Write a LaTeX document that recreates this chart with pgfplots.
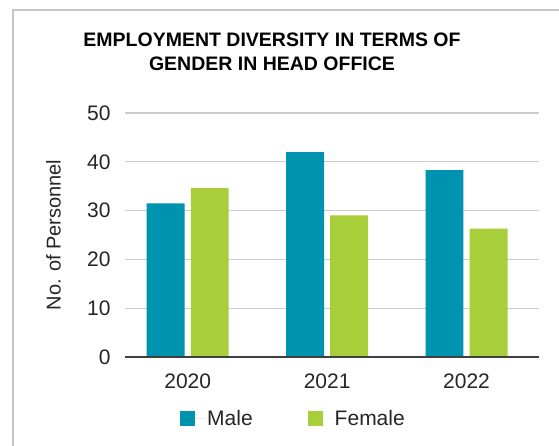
\documentclass[border=0pt]{standalone}
\usepackage{pgfplots}
\pgfplotsset{compat=1.18}
\usepackage{fontspec}
\setmainfont{Liberation Sans}
\definecolor{teal1}{HTML}{0093AF}
\definecolor{lime1}{HTML}{A8CE3A}
\definecolor{gridc}{HTML}{CCCCCC}
\definecolor{framec}{HTML}{C6C6CA}
\begin{document}
\begin{tikzpicture}[x=1pt,y=1pt]
\useasboundingbox (0,0) rectangle (559,-446);
\fill[white] (0,0) rectangle (559,-446);
\draw[framec, line width=2.5pt] (13,-446) -- (13,-10) -- (559,-10);
\node[font=\bfseries\fontsize{19.5}{23.5}\selectfont, align=center, text=black] at (272,-52) {EMPLOYMENT DIVERSITY IN TERMS OF\\GENDER IN HEAD OFFICE};
\begin{axis}[
  at={(125pt,-357pt)}, anchor=south west,
  scale only axis, width=414pt, height=244pt,
  xmin=-0.45, xmax=2.52, ymin=0, ymax=50,
  xtick={0,1,2}, xticklabels={2020,2021,2022},
  ytick={0,10,20,30,40,50},
  axis x line*=bottom, axis y line*=left,
  axis line style={draw=none},
  ymajorgrids, grid style={gridc, line width=1.2pt},
  major tick length=0pt,
  tick label style={font=\fontsize{21}{24}\selectfont, text=black!85},
  /pgf/number format/assume math mode=true,
  yticklabel style={anchor=east, xshift=-11pt},
  xticklabel style={yshift=-13pt},
  ylabel={No. of Personnel},
  ylabel style={font=\fontsize{20}{24}\selectfont, text=black!85, at={(axis description cs:-0.173,0.5)}, anchor=center, rotate=0},
  ybar, bar width=0.272,
  legend style={at={(axis description cs:0.407,-0.254)}, anchor=center, draw=none, fill=none, legend columns=2, font=\fontsize{21}{24}\selectfont, text=black!85, /tikz/every even column/.append style={column sep=53pt}},
  legend image code/.code={\fill[#1] (0pt,-7.5pt) rectangle (15pt,7.5pt); \path (15pt,0pt) -- (25pt,0pt);},
  clip=false,
]
\addplot[fill=teal1, draw=none, bar shift=-0.158] coordinates {(0,31.5) (1,42.0) (2,38.3)};
\addplot[fill=lime1, draw=none, bar shift=0.158] coordinates {(0,34.6) (1,29.0) (2,26.3)};
\legend{Male, Female}
\draw[black!75, line width=1.5pt] (axis cs:-0.45,0) -- (axis cs:2.52,0);
\end{axis}
\end{tikzpicture}
\end{document}
